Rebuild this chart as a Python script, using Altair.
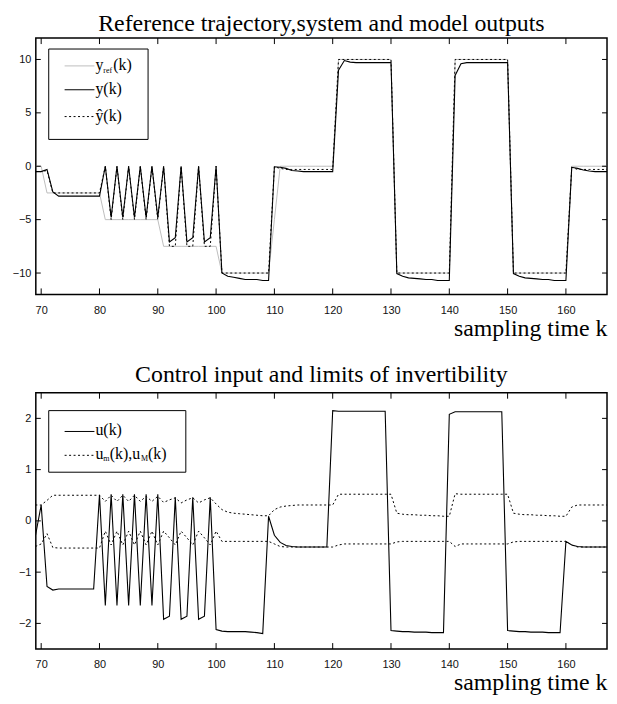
import altair as alt
import pandas as pd

# ---------------- data ----------------
k = list(range(69, 170))

y_ref = ([0, 0] + [-2.5] * 10 + [-5] * 10 + [-7.5] * 10 + [-10] * 9 + [-5]
         + [0] * 10 + [10] * 10 + [-10] * 10 + [10] * 10 + [-10] * 10 + [0] * 9)

y_out = ([-0.5, -0.5, -0.3, -2.4, -2.8] + [-2.8] * 7
         + [0, -4.8, 0, -4.8, 0, -4.8, 0, -4.8, 0, -4.8]
         + [0, -7.1, -6.7, 0, -7.1, -6.7, 0, -7.1, -6.7, 0]
         + [-10.0, -10.3, -10.4, -10.5, -10.6, -10.6, -10.6, -10.7, -10.7]
         + [-0.05]
         + [-0.1, -0.2, -0.4, -0.45] + [-0.5] * 6
         + [9.0, 9.9, 9.75] + [9.7] * 7
         + [-10.05, -10.3, -10.45, -10.5, -10.55, -10.6, -10.6, -10.7, -10.7, -10.7]
         + [8.5, 9.6, 9.7] + [9.7] * 7
         + [-10.05, -10.3, -10.45, -10.5, -10.55, -10.6, -10.6, -10.7, -10.7, -10.7]
         + [-0.1, -0.2, -0.35, -0.45] + [-0.5] * 5)

y_hat = ([-0.5, -0.5, -0.4, -2.5] + [-2.5] * 8
         + [0, -5, 0, -5, 0, -5, 0, -5, 0, -5]
         + [0, -7.5, -7.5, 0, -7.5, -7.5, 0, -7.5, -7.5, 0]
         + [-10] * 9
         + [-0.05]
         + [-0.2] + [-0.3] * 9
         + [10] * 10 + [-10] * 10 + [10] * 10 + [-10] * 10
         + [-0.1] + [-0.3] * 8)

u = ([-0.3, 0.31, -1.28, -1.35, -1.33] + [-1.33] * 6
     + [0.51]
     + [-1.65, 0.52, -1.65, 0.52, -1.65, 0.52, -1.65, 0.52, -1.65, 0.52]
     + [-1.92, -1.86, 0.46, -1.92, -1.86, 0.46, -1.92, -1.86, 0.46]
     + [-2.12, -2.15, -2.16, -2.16, -2.16, -2.16, -2.17, -2.18, -2.2]
     + [0.09, -0.28, -0.42, -0.48, -0.5] + [-0.51] * 6
     + [2.15, 2.14] + [2.14] * 8
     + [-2.14, -2.15, -2.16, -2.16, -2.17, -2.17, -2.17, -2.18, -2.18, -2.18]
     + [2.08, 2.13] + [2.13] * 8
     + [-2.14, -2.15, -2.16, -2.16, -2.17, -2.17, -2.17, -2.18, -2.18, -2.18]
     + [-0.4, -0.47, -0.5] + [-0.51] * 7)

u_max = ([0.31, 0.31, 0.4, 0.5] + [0.5] * 8
         + [0.38, 0.5, 0.38, 0.5, 0.38, 0.5, 0.38, 0.48, 0.38, 0.48]
         + [0.36, 0.41, 0.45, 0.35, 0.41, 0.45, 0.35, 0.41, 0.45]
         + [0.33, 0.22, 0.17, 0.15, 0.14, 0.13, 0.12, 0.11, 0.1, 0.1]
         + [0.22, 0.27, 0.29, 0.3] + [0.31] * 7
         + [0.52] * 10
         + [0.15, 0.13, 0.12, 0.12, 0.11, 0.11, 0.1, 0.1, 0.09, 0.09]
         + [0.53] + [0.52] * 9
         + [0.15, 0.13, 0.12, 0.12, 0.11, 0.11, 0.1, 0.1, 0.09, 0.09]
         + [0.27] + [0.31] * 8)

u_min = ([-0.5, -0.45, -0.25, -0.52] + [-0.53] * 8
         + [-0.2, -0.47, -0.2, -0.47, -0.2, -0.47, -0.2, -0.47, -0.2, -0.47]
         + [-0.2, -0.33, -0.47, -0.2, -0.33, -0.47, -0.2, -0.33, -0.47]
         + [-0.2, -0.4] + [-0.4] * 8
         + [-0.45, -0.5] + [-0.51] * 9
         + [-0.47] + [-0.45] * 9
         + [-0.41] + [-0.4] * 9
         + [-0.5] + [-0.45] * 9
         + [-0.41] + [-0.4] * 9
         + [-0.47] + [-0.51] * 8)

x_ticks = [70, 80, 90, 100, 110, 120, 130, 140, 150, 160]
y_ticks_top = [-10, -5, 0, 5, 10]
y_ticks_bottom = [-2, -1, 0, 1, 2]

title_top = "Reference trajectory,system and model outputs"
title_bottom = "Control input and limits of invertibility"
x_title = "sampling time k"

df = pd.DataFrame({"k": k, "y_ref": y_ref, "y": y_out, "y_hat": y_hat,
                   "u": u, "u_max": u_max, "u_min": u_min})

# ---------------- styling ----------------
W, H = 575, 258
SERIF = "Liberation Serif"
SANS = "Liberation Sans"
TITLE_FS = 24
LEG_FS = 16
SUB_FS = 8

xscale = alt.Scale(domain=[69.08, 167.05], nice=False, zero=False)
xaxis = alt.Axis(values=x_ticks, labelFont=SANS, labelFontSize=11, labelColor="#111",
                 ticks=False, domain=False, grid=False, labelPadding=10, labelFlush=False,
                 title=x_title, titleFont=SERIF, titleFontSize=TITLE_FS, titleFontWeight="normal",
                 titleColor="black", titleAnchor="end", titleAlign="right", titlePadding=1)


def yaxis(vals):
    return alt.Axis(values=vals, labelFont=SANS, labelFontSize=11, labelColor="#111",
                    ticks=False, domain=False, grid=False, labelPadding=5, title=None)


def ticks(yscale, yvals):
    tx = alt.Chart(pd.DataFrame({"t": x_ticks}))
    ty = alt.Chart(pd.DataFrame({"t": yvals}))
    top = tx.mark_rule(color="black", strokeWidth=1).encode(
        x=alt.X("t:Q", scale=xscale, axis=xaxis), y=alt.value(0), y2=alt.value(6))
    bot = tx.mark_rule(color="black", strokeWidth=1).encode(
        x=alt.X("t:Q", scale=xscale, axis=xaxis), y=alt.value(H - 6), y2=alt.value(H))
    left = ty.mark_rule(color="black", strokeWidth=1).encode(
        y=alt.Y("t:Q", scale=yscale, axis=yaxis(yvals)), x=alt.value(0), x2=alt.value(5))
    right = ty.mark_rule(color="black", strokeWidth=1).encode(
        y=alt.Y("t:Q", scale=yscale, axis=yaxis(yvals)), x=alt.value(W - 5), x2=alt.value(W))
    return [top, bot, left, right]


def line(field, yscale, yvals, color, width=1.0, dash=None):
    kw = dict(color=color, strokeWidth=width, clip=True)
    if dash:
        kw["strokeDash"] = dash
    return alt.Chart(df).mark_line(**kw).encode(
        x=alt.X("k:Q", scale=xscale, axis=xaxis),
        y=alt.Y(f"{field}:Q", scale=yscale, axis=yaxis(yvals)))


one = pd.DataFrame({"a": [0]})


def box(x1, x2, y1, y2):
    return alt.Chart(one).mark_rect(fill="white", stroke="black", strokeWidth=1).encode(
        x=alt.value(x1), x2=alt.value(x2), y=alt.value(y1), y2=alt.value(y2))


def sample(y, color, dash=None):
    kw = dict(color=color, strokeWidth=1)
    if dash:
        kw["strokeDash"] = dash
    return alt.Chart(one).mark_rule(**kw).encode(
        x=alt.value(29), x2=alt.value(59), y=alt.value(y))


def txt(s, x, y, size=LEG_FS):
    return alt.Chart(one).mark_text(text=s, align="left", baseline="middle", font=SERIF,
                                    fontSize=size, color="black").encode(
        x=alt.value(x), y=alt.value(y))


DOT = [2, 2.5]
GRAY = "#bdbdbd"

# ---------------- top panel ----------------
ys_top = alt.Scale(domain=[-12, 12], nice=False, zero=False)
top_layers = [
    line("y_ref", ys_top, y_ticks_top, GRAY, 1.0),
    line("y_hat", ys_top, y_ticks_top, "black", 1.0, DOT),
    line("y", ys_top, y_ticks_top, "black", 1.1),
    box(13, 113, 11, 102),
    sample(28, GRAY), txt("y", 60, 27), txt("ref", 68, 33, SUB_FS), txt("(k)", 78, 27),
    sample(52, "black"), txt("y(k)", 60, 51),
    sample(79, "black", DOT), txt("ŷ(k)", 60, 78),
] + ticks(ys_top, y_ticks_top)

top = alt.layer(*top_layers).properties(
    width=W, height=H,
    title=alt.TitleParams(title_top, font=SERIF, fontSize=TITLE_FS, fontWeight="normal",
                          color="black", anchor="middle", offset=2))

# ---------------- bottom panel ----------------
ys_bot = alt.Scale(domain=[-2.5, 2.5], nice=False, zero=False)
bot_layers = [
    line("u_max", ys_bot, y_ticks_bottom, "black", 1.0, DOT),
    line("u_min", ys_bot, y_ticks_bottom, "black", 1.0, DOT),
    line("u", ys_bot, y_ticks_bottom, "black", 1.1),
    box(13, 151, 18, 80),
    sample(39, "black"), txt("u(k)", 60, 38),
    sample(63, "black", DOT),
    txt("u", 60, 62), txt("m", 68, 67, SUB_FS), txt("(k),u", 74.5, 62),
    txt("M", 106, 67, SUB_FS), txt("(k)", 113, 62),
] + ticks(ys_bot, y_ticks_bottom)

bottom = alt.layer(*bot_layers).properties(
    width=W, height=H,
    title=alt.TitleParams(title_bottom, font=SERIF, fontSize=TITLE_FS, fontWeight="normal",
                          color="black", anchor="middle", offset=5))

chart = alt.vconcat(top, bottom, spacing=21).properties(
    padding={"left": 3, "top": 0, "right": 0, "bottom": 0}
).configure_view(stroke="black", strokeWidth=1.5)

chart.save("out.html", embed_options={"renderer": "svg", "actions": False})
